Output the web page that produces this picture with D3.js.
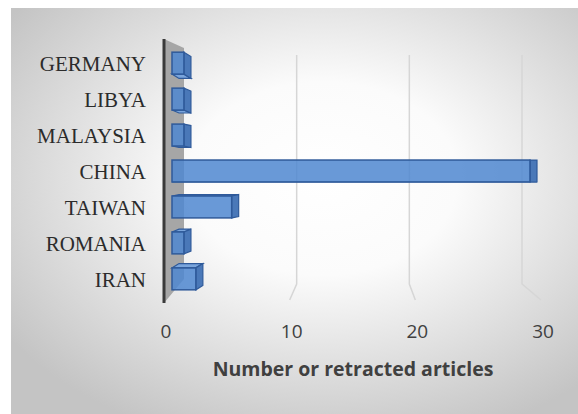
<!DOCTYPE html>
<html>
<head>
<meta charset="utf-8">
<script src="https://cdn.jsdelivr.net/npm/d3@7"></script>
<style>
  body { margin: 0; background: #fff; }
  svg { display: block; }
</style>
</head>
<body>
<div id="vis"></div>
<script>
// data
const countries = ['IRAN', 'ROMANIA', 'TAIWAN', 'CHINA', 'MALAYSIA', 'LIBYA', 'GERMANY']
const retracted = [2, 1, 5, 30, 1, 1, 1]
const ticks = [0, 10, 20, 30]
const axisTitle = 'Number or retracted articles'

const W = 578, H = 414
const depthX = 7        // 3d offset of bar side faces
const eyeY = 172        // where the side faces flip from down to up

let svg = d3.select('#vis').append('svg')
  .attr('width', W)
  .attr('height', H)

// background gradient, like the excel chart area
let defs = svg.append('defs')
let bg = defs.append('radialGradient')
  .attr('id', 'bg')
  .attr('cx', '55%').attr('cy', '42%').attr('r', '68%')
bg.append('stop').attr('offset', '0%').attr('stop-color', '#ffffff')
bg.append('stop').attr('offset', '35%').attr('stop-color', '#fbfbfb')
bg.append('stop').attr('offset', '100%').attr('stop-color', '#c4c4c4')

svg.append('rect')
  .attr('x', 11).attr('y', 8)
  .attr('width', W - 11).attr('height', H - 8)
  .attr('fill', 'url(#bg)')

// scales: front edge, back wall, and bars (mid depth)
let xFront = d3.scaleLinear().domain([0, 30]).range([164, 541])
let xBack = d3.scaleLinear().domain([0, 30]).range([184, 522])
let xBar = d3.scaleLinear().domain([0, 30]).range([172, 530])

let yBand = d3.scaleBand()
  .domain(countries.slice().reverse())
  .range([45, 297])
  .paddingInner(0.39)
  .paddingOuter(0.2)

const gridTop = 55, gridBend = 284, gridFront = 300

// gridlines on the back wall, bending onto the floor
svg.append('g').selectAll('path')
  .data(ticks.filter(d => d > 0))
  .enter()
  .append('path')
  .attr('d', d => `M${xBack(d)},${gridTop} L${xBack(d)},${gridBend} L${xFront(d)},${gridFront}`)
  .attr('fill', 'none')
  .attr('stroke', '#d6d6d6')
  .attr('stroke-width', 1.5)

// left side wall (gray) and axis line
svg.append('path')
  .attr('d', `M${xFront(0)},39 L${xBack(0)},48 L${xBack(0)},279 L${xFront(0)},303 Z`)
  .attr('fill', '#a6a6a6')

svg.append('line')
  .attr('x1', xFront(0)).attr('x2', xFront(0))
  .attr('y1', 39).attr('y2', 303)
  .attr('stroke', '#3a3a3a')
  .attr('stroke-width', 3)

// bars
let bars = svg.append('g').selectAll('g')
  .data(countries.map((c, i) => ({ country: c, value: retracted[i] })))
  .enter()
  .append('g')

function faceDy(d) {
  let cy = yBand(d.country) + yBand.bandwidth() / 2
  return (eyeY - cy) * 0.04
}

// top / bottom face
bars.append('path')
  .attr('d', d => {
    let x0 = xBar(0), x1 = xBar(d.value)
    let dy = faceDy(d)
    let y = dy < 0 ? yBand(d.country) : yBand(d.country) + yBand.bandwidth()
    return `M${x0},${y} L${x1},${y} L${x1 + depthX},${y + dy} L${x0 + depthX},${y + dy} Z`
  })
  .attr('fill', '#7aa5dc')
  .attr('stroke', '#2f5a9a')
  .attr('stroke-width', 1.2)

// end face
bars.append('path')
  .attr('d', d => {
    let x1 = xBar(d.value)
    let dy = faceDy(d)
    let y0 = yBand(d.country), y1 = y0 + yBand.bandwidth()
    return `M${x1},${y0} L${x1 + depthX},${y0 + dy} L${x1 + depthX},${y1 + dy} L${x1},${y1} Z`
  })
  .attr('fill', '#4a78b8')
  .attr('stroke', '#2f5a9a')
  .attr('stroke-width', 1.2)

// front face
bars.append('rect')
  .attr('x', xBar(0))
  .attr('y', d => yBand(d.country))
  .attr('width', d => xBar(d.value) - xBar(0))
  .attr('height', yBand.bandwidth())
  .attr('fill', '#5088d1')
  .attr('fill-opacity', 0.86)
  .attr('stroke', '#2f5a9a')
  .attr('stroke-width', 1.5)

// category labels
svg.append('g').selectAll('text')
  .data(countries)
  .enter()
  .append('text')
  .attr('x', 146)
  .attr('y', d => yBand(d) + yBand.bandwidth() / 2 + 1)
  .attr('text-anchor', 'end')
  .attr('dominant-baseline', 'central')
  .attr('font-family', '"Liberation Serif", "DejaVu Serif", serif')
  .attr('font-size', 21)
  .attr('fill', '#2b2b2b')
  .text(d => d)

// value tick labels
svg.append('g').selectAll('text')
  .data(ticks)
  .enter()
  .append('text')
  .attr('x', d => xFront(d) + 2)
  .attr('y', 338)
  .attr('text-anchor', 'middle')
  .attr('font-family', '"Open Sans", sans-serif')
  .attr('font-size', 19)
  .attr('fill', '#404040')
  .text(d => d)

svg.append('text')
  .attr('x', 353)
  .attr('y', 376)
  .attr('text-anchor', 'middle')
  .attr('font-family', '"Open Sans", sans-serif')
  .attr('font-weight', 'bold')
  .attr('font-size', 19.5)
  .attr('fill', '#404040')
  .text(axisTitle)
</script>
</body>
</html>
